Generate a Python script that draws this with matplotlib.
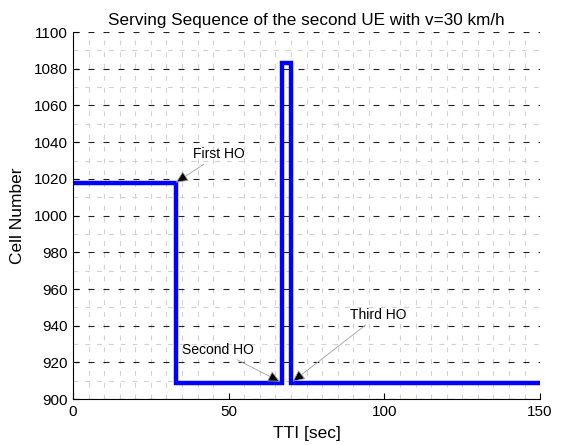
import numpy as np
import matplotlib
matplotlib.use("Agg")
import matplotlib.pyplot as plt
from matplotlib.ticker import FixedLocator

plt.rcParams['font.family'] = ['Liberation Sans', 'DejaVu Sans']
plt.rcParams['lines.scale_dashes'] = False

# Celda servidora del segundo UE (cambios de celda en cada HO)
tti = [0, 33, 33, 67, 67, 70, 70, 150]
celda = [1018, 1018, 909, 909, 1083, 1083, 909, 909]

# Handovers: (texto, punto del HO, posicion del texto)
ho_texto = ["First HO", "Second HO", "Third HO"]
ho_punto = [(33, 1018), (66.5, 909.5), (70.5, 909.5)]
ho_label = [(38.5, 1029.5), (35, 923), (89, 942)]

fig = plt.figure(figsize=(5.62, 4.45), dpi=100)
ax = fig.add_axes([0.130, 0.103, 0.831, 0.825])

ax.plot(tti, celda, color='blue', lw=3.2, solid_joinstyle='miter')

for txt, p, t in zip(ho_texto, ho_punto, ho_label):
    ax.annotate(txt, xy=p, xytext=t, fontsize=10,
                ha='left', va='bottom',
                arrowprops=dict(arrowstyle='-|>,head_length=0.75,head_width=0.35',
                                fc='black', ec='#a0a0a0', lw=0.6,
                                shrinkA=0, shrinkB=0))

ax.set_xlim(0, 150)
ax.set_ylim(900, 1100)
ax.set_xticks([0, 50, 100, 150])
ax.set_yticks(np.arange(900, 1101, 20))
ax.xaxis.set_minor_locator(FixedLocator([x for x in range(5, 150, 5) if x % 50 != 0]))
ax.yaxis.set_minor_locator(FixedLocator(np.arange(910, 1100, 20)))

ax.grid(False)
ax.yaxis.grid(True, which='major', color='#202020', linestyle=(0, (4.3, 6.5)), lw=0.8)
ax.xaxis.grid(True, which='minor', color='#d2d2d2', linestyle=(0, (3.5, 5)), lw=0.8)
ax.yaxis.grid(True, which='minor', color='#d2d2d2', linestyle=(0, (3.5, 5)), lw=0.8)
ax.set_axisbelow(True)

ax.tick_params(which='major', direction='in', length=4, labelsize=11, pad=4)
ax.tick_params(which='minor', length=0)
ax.spines['top'].set_visible(False)
ax.spines['right'].set_visible(False)

ax.set_title("Serving Sequence of the second UE with v=30 km/h", fontsize=12.3, pad=5)
ax.set_xlabel("TTI [sec]", fontsize=12.5, labelpad=5)
ax.set_ylabel("Cell Number", fontsize=12.5, labelpad=6)

fig.savefig("out.png", dpi=100)
